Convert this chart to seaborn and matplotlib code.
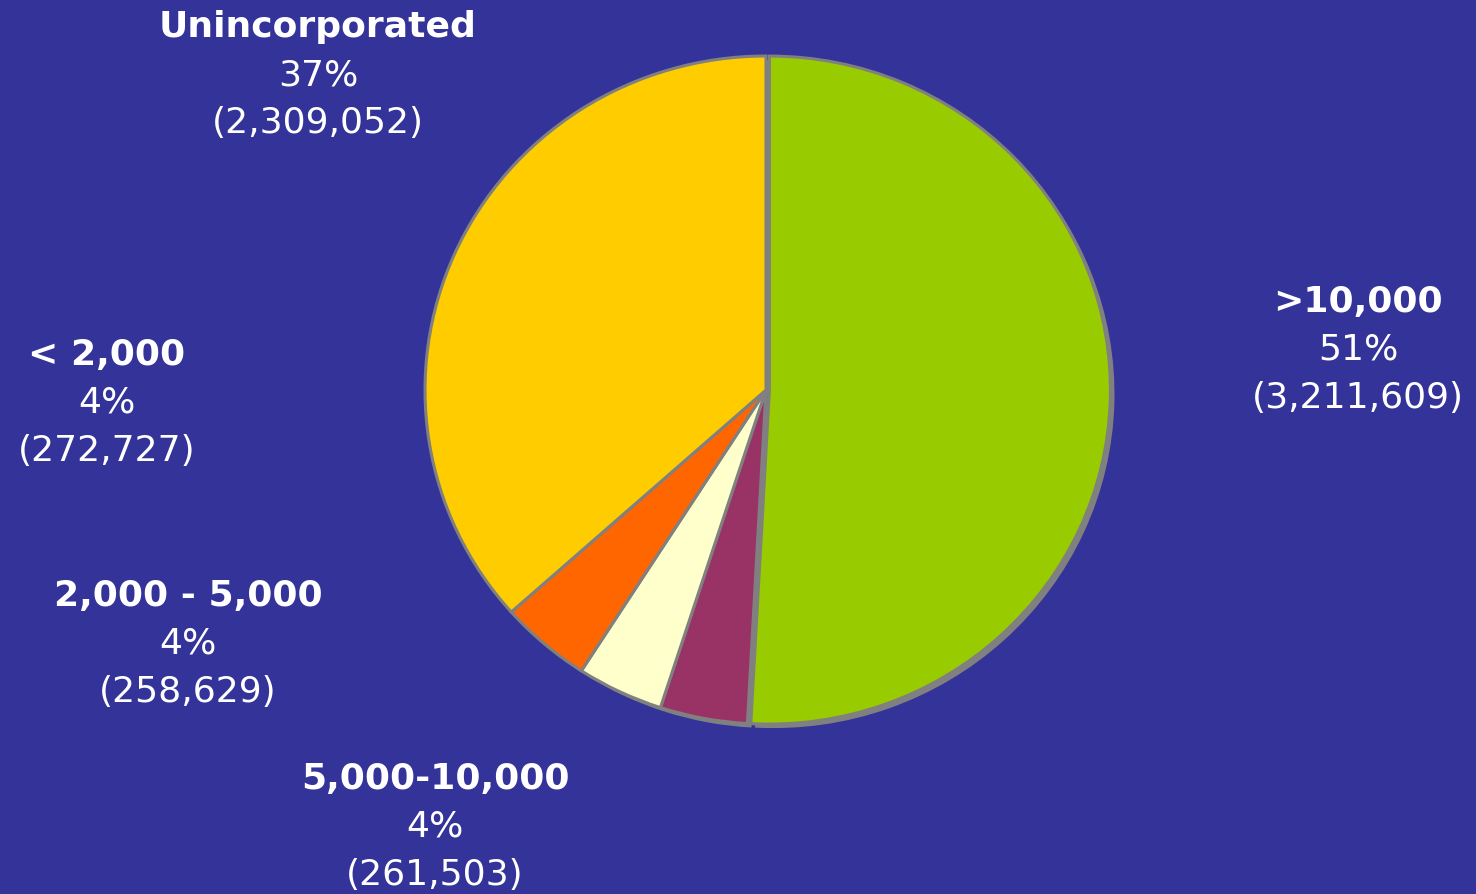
import matplotlib
matplotlib.use("Agg")
import matplotlib.pyplot as plt
import seaborn as sns

# data
categories = [">10,000", "5,000-10,000", "2,000 - 5,000", "< 2,000", "Unincorporated"]
counts = [3211609, 261503, 258629, 272727, 2309052]
pct_labels = ["51%", "4%", "4%", "4%", "37%"]
count_labels = ["(3,211,609)", "(261,503)", "(258,629)", "(272,727)", "(2,309,052)"]
colors = ["#99CC00", "#993366", "#FFFFCC", "#FF6600", "#FFCC00"]

bg = "#333399"
sns.set_theme(style="white", rc={"figure.facecolor": bg, "axes.facecolor": bg})
plt.rcParams["font.family"] = ["DejaVu Sans"]

W, H = 1476, 895
fig = plt.figure(figsize=(W / 100, H / 100), dpi=100)

# pie is drawn slightly wider than tall, like the reference
cx, cy, rx, ry = 766, 391, 341, 334
ax = fig.add_axes([(cx - rx) / W, (H - cy - ry) / H, 2 * rx / W, 2 * ry / H])
ax.set_facecolor(bg)

# drop shadow underneath
ax.pie(counts, startangle=90, counterclock=False, colors=["#808080"] * len(counts),
       center=(0.012, -0.012), explode=[0.01, 0, 0, 0, 0],
       wedgeprops=dict(linewidth=0))
ax.pie(counts, startangle=90, counterclock=False, colors=colors,
       explode=[0.01, 0, 0, 0, 0],
       wedgeprops=dict(edgecolor="#808080", linewidth=2.2))
ax.set_xlim(-1.0, 1.0)
ax.set_ylim(-1.0, 1.0)
ax.set_aspect("auto")
ax.axis("off")

# label anchor (center x, top line y) in pixels
label_pos = [(1358, 302), (435, 779), (188, 596), (107, 355), (318, 27)]
for cat, pct, cnt, (lx, ly) in zip(categories, pct_labels, count_labels, label_pos):
    fig.text(lx / W, 1 - ly / H, cat, color="white", fontsize=26, fontweight="bold",
             ha="center", va="center")
    fig.text(lx / W, 1 - (ly + 48) / H, pct, color="white", fontsize=26,
             ha="center", va="center")
    fig.text(lx / W, 1 - (ly + 96) / H, cnt, color="white", fontsize=26,
             ha="center", va="center")

fig.savefig("out.png", dpi=100, facecolor=bg)
